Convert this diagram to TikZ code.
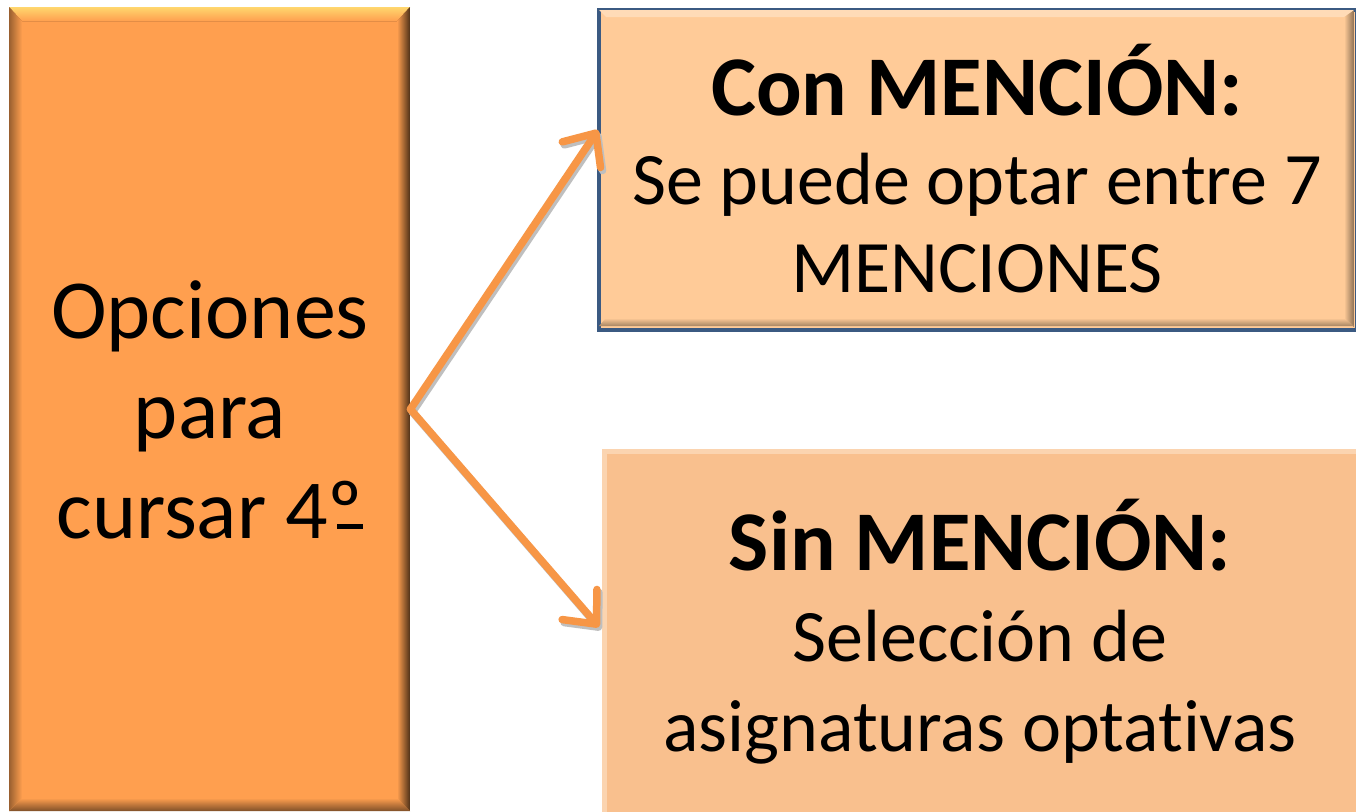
\documentclass[tikz,border=0pt]{standalone}
\usepackage{fontspec}
\setmainfont{Carlito}[Ligatures={NoCommon}]
\usetikzlibrary{arrows.meta}
\definecolor{boxorange}{HTML}{FF9F4F}
\definecolor{boxlight}{HTML}{FFCB98}
\definecolor{boxsin}{HTML}{F9C08E}
\definecolor{sinedge}{HTML}{FBD4B0}
\definecolor{blueedge}{HTML}{3B5A82}
\definecolor{arrowc}{HTML}{F79646}
\tikzset{
  conn/.style={draw=arrowc, line width=7.5pt, line cap=round, line join=round,
    -{Straight Barb[length=26pt,width=46pt,line cap=round,line join=round]}},
  connshadow/.style={draw=black!25, line width=7.5pt, line cap=round, line join=round,
    -{Straight Barb[length=26pt,width=46pt,line cap=round,line join=round]}},
  boxtext/.style={align=center, text=black, inner sep=0pt},
}
\newcommand{\ordo}{º\llap{\rule[10pt]{26pt}{4.5pt}}}
\begin{document}
\begin{tikzpicture}[x=1pt,y=-1pt]
\useasboundingbox (0,0) rectangle (1356,811);
\fill[white] (0,0) rectangle (1356,811);
% left box with bevel
\node[rectangle, fill=boxorange, minimum width=401pt, minimum height=804pt, inner sep=0pt, anchor=north west] (opc) at (9,7) {};
\fill[top color=boxorange!60!yellow!70!white, bottom color=boxorange] (9,7) -- (410,7) -- (397,21) -- (22,21) -- cycle;
\shade[left color=boxorange, right color=boxorange!30!black] (410,7) -- (410,811) -- (397,798) -- (397,21) -- cycle;
\shade[top color=boxorange, bottom color=boxorange!50!black] (9,811) -- (410,811) -- (397,798) -- (22,798) -- cycle;
\shade[left color=boxorange!60!black, right color=boxorange] (9,7) -- (22,21) -- (22,798) -- (9,811) -- cycle;
\node[boxtext, font=\fontsize{84}{100}\selectfont] (opct) at (210,410) {Opciones\\para\\cursar 4\ordo};
% top right box
\node[rectangle, fill=boxlight, draw=blueedge, line width=4pt, minimum width=758pt, minimum height=320pt, inner sep=0pt, anchor=north west] (con) at (597,8) {};
\shade[left color=boxlight, right color=boxlight!55!black] (1344,11) -- (1354,11) -- (1354,327) -- (1344,318) -- cycle;
\fill[boxlight!70!white] (599,10) -- (1354,10) -- (1344,17) -- (606,17) -- cycle;
\shade[top color=boxlight, bottom color=boxlight!65!black] (599,326) -- (1354,326) -- (1344,318) -- (606,318) -- cycle;
\node[boxtext, font=\fontsize{74}{88}\selectfont] (cont) at (977,169) {{\bfseries\fontsize{85}{92}\selectfont Con MENCIÓN:}\\[1pt]Se puede optar entre 7\\MENCIONES};
% bottom right box
\node[rectangle, fill=boxsin, draw=sinedge, line width=5pt, minimum width=756pt, minimum height=366pt, inner sep=0pt, anchor=north west] (sin) at (601.5,448.5) {};
\node[boxtext, font=\fontsize{74}{90}\selectfont] (sint) at (980,632) {{\bfseries\fontsize{85}{92}\selectfont Sin MENCIÓN:}\\[1pt]Selección de\\asignaturas optativas};
% connectors
\coordinate (src) at (opc.east);
\coordinate (conin) at (598,130);
\coordinate (sinin) at (599,627);
\begin{scope}[transform canvas={shift={(2pt,-3pt)}}]
\draw[connshadow] (src) -- (conin);
\draw[connshadow] (src) -- (sinin);
\end{scope}
\draw[conn] (src) -- (conin);
\draw[conn] (src) -- (sinin);
\end{tikzpicture}
\end{document}
